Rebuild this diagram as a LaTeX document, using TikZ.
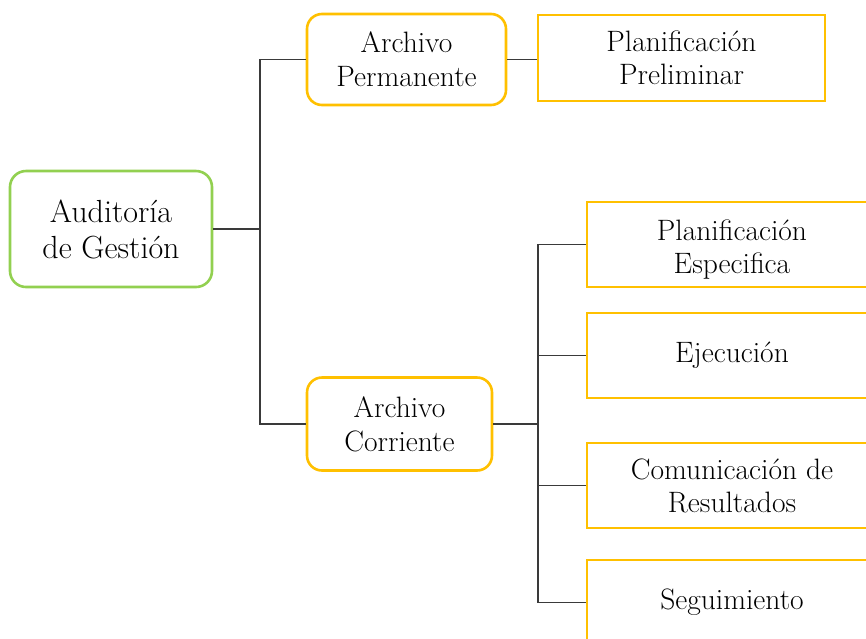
\documentclass[tikz,border=0pt]{standalone}
\definecolor{boxyellow}{HTML}{FFC000}
\definecolor{boxgreen}{HTML}{92D050}
\definecolor{linkgray}{HTML}{3A3A3A}
\begin{document}
\begin{tikzpicture}[x=1pt,y=-1pt,
  base/.style={draw, line width=2.6pt, fill=white, align=center, inner sep=0pt},
  rootbox/.style={base, draw=boxgreen, rounded corners=16pt, font=\fontsize{32}{36}\selectfont},
  midbox/.style={base, draw=boxyellow, rounded corners=15pt, font=\fontsize{29.5}{34}\selectfont},
  leafbox/.style={base, draw=boxyellow, font=\fontsize{29.5}{33}\selectfont},
  link/.style={draw=linkgray, line width=1.4pt}]
\useasboundingbox (0,0) rectangle (866,638);
\clip (0,0) rectangle (866,638);
% junctions
\coordinate (j1) at (260,229);
\coordinate (j2) at (538,424);
% nodes
\node[rootbox, minimum width=202pt, minimum height=116pt] (aud) at (111,229) {Auditoría\\de Gestión};
\node[midbox, minimum width=199pt, minimum height=91pt] (ap) at (406.5,59.5) {Archivo\\Permanente};
\node[leafbox, minimum width=287pt, minimum height=86pt] (pp) at (681.5,58) {Planificación\\Preliminar};
\node[midbox, minimum width=185pt, minimum height=93pt] (ac) at (399.5,424) {Archivo\\Corriente};
\node[leafbox, minimum width=290pt, minimum height=85pt] (r1) at (732,244.5) {};
\node[font=\fontsize{29.5}{33}\selectfont, align=center] at (732,250) {Planificación\\Especifica};
\node[leafbox, minimum width=290pt, minimum height=85pt] (r2) at (732,355.5) {Ejecución};
\node[leafbox, minimum width=290pt, minimum height=85pt] (r3) at (732,485.5) {Comunicación de\\Resultados};
\node[leafbox, minimum width=290pt, minimum height=85pt] (r4) at (732,602.5) {Seguimiento};
% links
\path[link] (aud.east) -- (j1);
\path[link] (ap.west) -| (j1) |- (ac.west);
\path[link] (ap.east) -- (ap.east -| pp.west);
\path[link] (ac.east) -- (j2);
\path[link] (r1.west) -| (j2);
\path[link] (r2.west) -| (j2);
\path[link] (r3.west) -| (j2);
\path[link] (r4.west) -| (j2);
\end{tikzpicture}
\end{document}
